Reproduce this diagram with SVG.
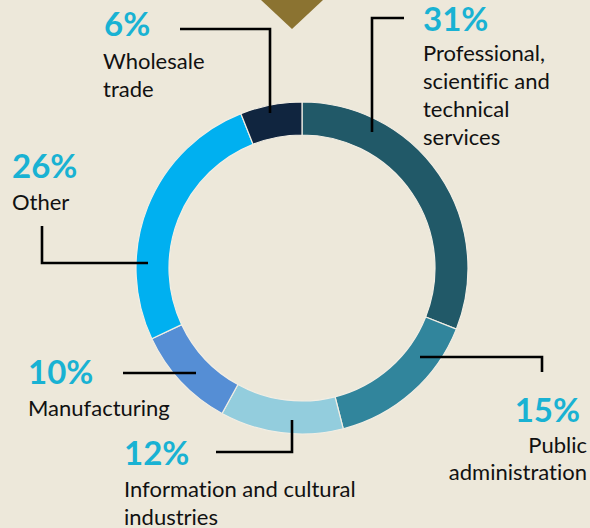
<svg xmlns="http://www.w3.org/2000/svg" width="590" height="528" viewBox="0 0 590 528">
<style>
.pct{font-family:Lato,"Liberation Sans",sans-serif;font-weight:700;font-size:33px;fill:#19B2D3}
.lbl{font-family:Lato,"Liberation Sans",sans-serif;font-size:22px;fill:#111;font-variant-ligatures:none}
.seg{stroke:#F2EEE4;stroke-width:1.2}
.lead{fill:none;stroke:#000;stroke-width:2.6}
.r{text-anchor:end}
</style>
<rect width="590" height="528" fill="#EDE8DA"/>
<polygon points="261,0 323,0 292,29" fill="#8B7331"/>
<g id="professional">
<path class="seg" fill="#215968" d="M302,102 A166,166 0 0 1 456.34,329.11 L425.66,316.96 A133,133 0 0 0 302,135 Z"/>
<text class="pct" x="423" y="31">31%</text>
<text class="lbl" x="423" y="61">Professional,</text>
<text class="lbl" x="423" y="89">scientific and</text>
<text class="lbl" x="423" y="117">technical</text>
<text class="lbl" x="423" y="145">services</text>
</g>
<g id="public">
<path class="seg" fill="#31859C" d="M456.34,329.11 A166,166 0 0 1 343.28,428.78 L335.08,396.82 A133,133 0 0 0 425.66,316.96 Z"/>
<text class="pct r" x="580" y="422">15%</text>
<text class="lbl r" x="587" y="453">Public</text>
<text class="lbl r" x="587" y="480">administration</text>
</g>
<g id="information">
<path class="seg" fill="#93CDDD" d="M343.28,428.78 A166,166 0 0 1 222.03,413.47 L237.93,384.55 A133,133 0 0 0 335.08,396.82 Z"/>
<text class="pct" x="124" y="465">12%</text>
<text class="lbl" x="124" y="497">Information and cultural</text>
<text class="lbl" x="124" y="525">industries</text>
</g>
<g id="manufacturing">
<path class="seg" fill="#558ED5" d="M222.03,413.47 A166,166 0 0 1 151.80,338.68 L181.66,324.63 A133,133 0 0 0 237.93,384.55 Z"/>
<text class="pct" x="28" y="384">10%</text>
<text class="lbl" x="28" y="416">Manufacturing</text>
</g>
<g id="other">
<path class="seg" fill="#00B0F0" d="M151.80,338.68 A166,166 0 0 1 240.89,113.66 L253.04,144.34 A133,133 0 0 0 181.66,324.63 Z"/>
<text class="pct" x="12" y="178">26%</text>
<text class="lbl" x="12" y="210">Other</text>
</g>
<g id="wholesale">
<path class="seg" fill="#10253F" d="M240.89,113.66 A166,166 0 0 1 302,102 L302,135 A133,133 0 0 0 253.04,144.34 Z"/>
<text class="pct" x="104" y="36">6%</text>
<text class="lbl" x="103" y="69">Wholesale</text>
<text class="lbl" x="103" y="97">trade</text>
</g>
<g id="connectors">
<polyline class="lead" points="180,29 270,29 270,113"/>
<polyline class="lead" points="404,18 372,18 372,132"/>
<polyline class="lead" points="42,226 42,263 148,263"/>
<polyline class="lead" points="123,373 196,373"/>
<polyline class="lead" points="216,452 292,452 292,420"/>
<polyline class="lead" points="420,357 542,357 542,372"/>
</g>
</svg>
